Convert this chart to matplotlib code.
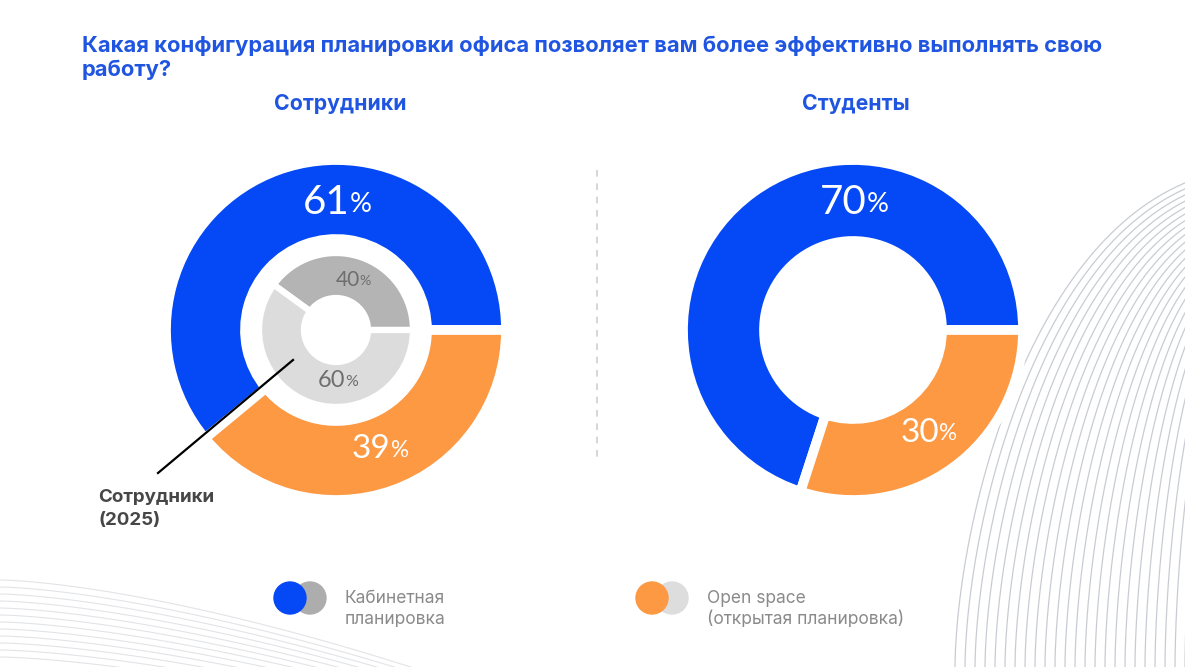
import numpy as np
import matplotlib
matplotlib.use("Agg")
import matplotlib.pyplot as plt
from matplotlib.patches import Circle

# ---------------- data ----------------
categories = ["Кабинетная планировка", "Open space (открытая планировка)"]
employees = [61, 39]
employees_2025 = [40, 60]
students = [70, 30]
title = "Какая конфигурация планировки офиса позволяет вам более эффективно выполнять свою\nработу?"
group_titles = ["Сотрудники", "Студенты"]
legend_labels = ["Кабинетная\nпланировка", "Open space\n(открытая планировка)"]
inner_label = "Сотрудники\n(2025)"

# ---------------- style ----------------
BLUE = "#0548f5"
ORANGE = "#fd9843"
GREY_D = "#b4b4b4"
GREY_L = "#dcdcdc"
TITLE_BLUE = "#1f55e0"
FONT = ["Inter", "DejaVu Sans"]
NUMFONT = ["Lato", "DejaVu Sans"]
W, H = 1185, 667

fig = plt.figure(figsize=(W / 100, H / 100), dpi=100)
ax = fig.add_axes([0, 0, 1, 1])
ax.set_xlim(0, W)
ax.set_ylim(0, H)
ax.set_aspect("equal")
ax.axis("off")

def Y(py):
    return H - py

# ---------------- decorative background curves ----------------
t = np.linspace(0, 1, 200)
for i in range(26):
    x0 = 955 + i * 10
    xs = x0 + (1185 - x0 + 80) * t ** 1.7
    ys = 667 - (500 - i * 5) * np.sin(t * np.pi / 2) ** 1.0
    ax.plot(xs, Y(ys), color="#bfc3ca", lw=0.9, alpha=0.85, zorder=0)
for i in range(12):
    xs = np.linspace(0, 420, 100)
    ys = 580 + i * 7 + (xs / 420) ** 1.5 * (90 - i * 2)
    ax.plot(xs, Y(ys), color="#d6d8dc", lw=0.8, alpha=0.7, zorder=0)

# ---------------- donuts ----------------
def donut(values, colors, cx, cy, r_out, r_in, gap_pt):
    ax.pie(values, colors=colors, startangle=0, counterclock=True,
           center=(cx, Y(cy)), radius=r_out, frame=True,
           wedgeprops=dict(width=r_out - r_in, edgecolor="white",
                           linewidth=gap_pt))

def pct_label(cx, cy, r, ang_deg, value, size, color, weight="normal"):
    a = np.deg2rad(ang_deg)
    x = cx + r * np.cos(a)
    y = Y(cy) + r * np.sin(a)
    shift = size * 0.32
    t1 = ax.text(x - shift, y, f"{value}", ha="center", va="center",
                 fontsize=size, color=color, family=NUMFONT,
                 weight=weight, zorder=5)
    ax.annotate("%", xy=(1.0, 0.12), xycoords=t1, ha="left", va="bottom",
                fontsize=size * 0.68, color=color,
                family=NUMFONT, weight=weight, zorder=5)

cxL, cyL = 336, 330
donut(employees, [BLUE, ORANGE], cxL, cyL, 170, 91, 7)
donut(employees_2025, [GREY_D, GREY_L], cxL, cyL, 77, 32, 4.5)
cxR, cyR = 853, 330
donut(students, [BLUE, ORANGE], cxR, cyR, 170, 89, 7)

ax.set_xlim(0, W)
ax.set_ylim(0, H)
ax.axis("off")

def mid_angle(vals, idx):
    tot = sum(vals)
    start = sum(vals[:idx]) / tot * 360
    return start + vals[idx] / tot * 180

pct_label(cxL, cyL, 127, 90, employees[0], 29, "white")
pct_label(cxL, cyL, 127, mid_angle(employees, 1), employees[1], 24, "white")
pct_label(cxL, cyL, 53, mid_angle(employees_2025, 0), employees_2025[0], 15, "#6e6e6e")
pct_label(cxL, cyL, 51, 271, employees_2025[1], 17, "#6e6e6e")
pct_label(cxR, cyR, 127, 90, students[0], 29, "white")
pct_label(cxR, cyR, 127, mid_angle(students, 1), students[1], 24, "white")

# annotation line for inner ring
ax.plot([158, 293], [Y(473), Y(360)], color="black", lw=1.6, zorder=6)
ax.text(98, Y(509), inner_label, ha="left", va="center", fontsize=13.5,
        weight="bold", color="#464646", family=FONT, linespacing=1.4)

# divider
ax.plot([597, 597], [Y(170), Y(460)], color="#cfcfcf", lw=1.2,
        ls=(0, (4, 4)), zorder=1)

# ---------------- texts ----------------
ax.text(82, Y(58), title, ha="left", va="center", fontsize=15.8, weight="bold",
        color=TITLE_BLUE, family=FONT, linespacing=1.25)
ax.text(340, Y(104), group_titles[0], ha="center", va="center", fontsize=15.3,
        weight="bold", color=TITLE_BLUE, family=FONT)
ax.text(856, Y(104), group_titles[1], ha="center", va="center", fontsize=15.3,
        weight="bold", color=TITLE_BLUE, family=FONT)

# ---------------- legend ----------------
leg = [(290, BLUE, "#adadad", 345, legend_labels[0]),
       (652, ORANGE, "#dddddd", 707, legend_labels[1])]
for x, c, gc, tx, lab in leg:
    ax.add_patch(Circle((x + 20, Y(598)), 16, color=gc, zorder=2))
    ax.add_patch(Circle((x, Y(598)), 16, color=c, zorder=3))
    ax.text(tx, Y(609), lab, ha="left", va="center", fontsize=12.5,
            color="#8a8a8a", family=FONT, linespacing=1.3)

fig.savefig("out.png", dpi=100)
